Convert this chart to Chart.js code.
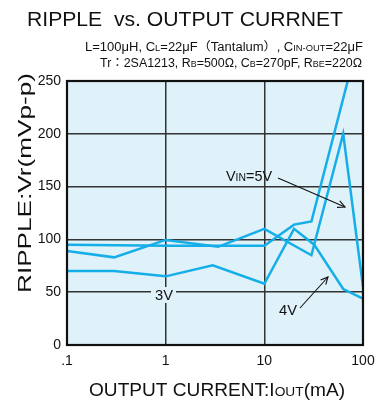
<!DOCTYPE html>
<html>
<head>
<meta charset="utf-8">
<script src="https://cdn.jsdelivr.net/npm/chart.js@4/dist/chart.umd.min.js"></script>
<style>
html,body{margin:0;padding:0;background:#fff;}
#wrap{width:383px;height:401px;position:relative;}
canvas{display:block;}
</style>
</head>
<body>
<div id="wrap"><canvas id="c" width="383" height="401"></canvas></div>
<script>
// ---- data ----
const current3V = [0.1, 0.3, 1, 3, 10, 20, 32, 63, 100];
const ripple3V  = [70, 70, 65, 75.5, 58, 110, 95, 53, 44];
const current4V = [0.1, 1, 10, 20, 30, 80];
const ripple4V  = [95, 94, 94, 114, 117, 271];
const current5V = [0.1, 0.3, 1, 3.4, 10, 30, 63, 100];
const ripple5V  = [89, 83, 99.5, 93, 110, 85, 200, 55];
const xTicks = [0.1, 1, 10, 100];
const xTickLabels = [".1", "1", "10", "100"];
const yTicks = [0, 50, 100, 150, 200, 250];

const FONT = '"Liberation Sans", Arial, "Noto Sans CJK JP", sans-serif';
const LINE = '#14aee8';
const BG = '#dff1f9';

function pts(xs, ys){ return xs.map((x,i)=>({x:x, y:ys[i]})); }

// draw mixed-size text runs; align center; optional target width
function drawRuns(ctx, runs, cx, cy, size, targetW){
  ctx.save();
  let w = 0;
  const widths = runs.map(r => { ctx.font = (size*r[1]).toFixed(2)+'px '+FONT; const m = ctx.measureText(r[0]).width; w += m; return m; });
  const sx = targetW ? targetW / w : 1;
  ctx.translate(cx, cy + size*0.36);
  ctx.scale(sx, 1);
  let x = -w/2;
  ctx.textBaseline = 'alphabetic';
  ctx.textAlign = 'left';
  runs.forEach((r,i) => { ctx.font = (size*r[1]).toFixed(2)+'px '+FONT; ctx.fillText(r[0], x, 0); x += widths[i]; });
  ctx.restore();
}

function arrow(ctx, x1, y1, x2, y2){
  ctx.save();
  ctx.strokeStyle = '#111';
  ctx.lineWidth = 1.1;
  ctx.beginPath(); ctx.moveTo(x1,y1); ctx.lineTo(x2,y2); ctx.stroke();
  const a = Math.atan2(y2-y1, x2-x1), L = 8, s = 0.45;
  ctx.beginPath();
  ctx.moveTo(x2 - L*Math.cos(a-s), y2 - L*Math.sin(a-s));
  ctx.lineTo(x2, y2);
  ctx.lineTo(x2 - L*Math.cos(a+s), y2 - L*Math.sin(a+s));
  ctx.stroke();
  ctx.restore();
}

const S = 0.72;
const deco = {
  id: 'deco',
  beforeDraw(chart){
    const ctx = chart.ctx, a = chart.chartArea;
    ctx.save();
    ctx.fillStyle = '#fff';
    ctx.fillRect(0,0,chart.width,chart.height);
    ctx.fillStyle = BG;
    ctx.fillRect(a.left, a.top, a.right-a.left, a.bottom-a.top);
    ctx.restore();
  },
  afterDatasetsDraw(chart){
    const ctx = chart.ctx, a = chart.chartArea;
    ctx.save();
    ctx.strokeStyle = '#111';
    ctx.lineWidth = 2.2;
    ctx.strokeRect(a.left, a.top, a.right-a.left, a.bottom-a.top);
    ctx.fillStyle = '#111';
    // title
    drawRuns(ctx, [["RIPPLE  vs. OUTPUT CURRNET",1]], 185, 19, 20, 316);
    drawRuns(ctx, [["L=100\u03BCH, C",1],["L",S],["=22\u03BCF\uFF08Tantalum\uFF09, C",1],["IN-OUT",S],["=22\u03BCF",1]], 224, 47, 12, 278);
    drawRuns(ctx, [["Tr\uFF1A2SA1213, R",1],["B",S],["=500\u03A9, C",1],["B",S],["=270pF, R",1],["BE",S],["=220\u03A9",1]], 231, 63, 12, 262);
    // axis titles
    drawRuns(ctx, [["OUTPUT CURRENT:I",1],["OUT",S],["(mA)",1]], 217, 389, 19, 256);
    ctx.save();
    ctx.translate(24, 183);
    ctx.rotate(-Math.PI/2);
    drawRuns(ctx, [["RIPPLE:Vr(mVp-p)",1]], 0, 0, 19, 220);
    ctx.restore();
    // annotations
    ctx.fillStyle = BG;
    ctx.fillRect(151, 287, 25, 16);
    ctx.fillStyle = '#111';
    drawRuns(ctx, [["3V",1]], 164, 295, 15, 18);
    drawRuns(ctx, [["4V",1]], 288, 310, 15, 18);
    drawRuns(ctx, [["V",1],["IN",S],["=5V",1]], 249, 176, 15, 46);
    arrow(ctx, 278, 178, 345, 207);
    arrow(ctx, 300, 308, 328, 277);
    ctx.restore();
  }
};

const ds = (label, xs, ys) => ({
  label, data: pts(xs, ys), borderColor: LINE, borderWidth: 2.5,
  pointRadius: 0, tension: 0, fill: false, clip: 0
});

new Chart(document.getElementById('c'), {
  type: 'line',
  data: { datasets: [ ds('3V', current3V, ripple3V), ds('4V', current4V, ripple4V), ds('5V', current5V, ripple5V) ] },
  options: {
    responsive: false, animation: false, devicePixelRatio: 1,
    layout: { padding: { left: 0, right: 20, top: 81, bottom: 0 } },
    plugins: { legend: { display: false }, tooltip: { enabled: false }, title: { display: false } },
    scales: {
      x: {
        type: 'logarithmic', min: 0.1, max: 100,
        afterBuildTicks: s => { s.ticks = xTicks.map(v => ({ value: v })); },
        afterFit: s => { s.height = 56; },
        ticks: { autoSkip: false, maxRotation: 0, padding: 8, color: '#111', font: { family: FONT, size: 14 },
                 callback: (v, i) => xTickLabels[i] },
        grid: { color: '#333', lineWidth: 1.5, drawTicks: false },
        border: { display: false }
      },
      y: {
        type: 'linear', min: 0, max: 250,
        afterBuildTicks: s => { s.ticks = yTicks.map(v => ({ value: v })); },
        afterFit: s => { s.width = 67; },
        ticks: { padding: 6, color: '#111', font: { family: FONT, size: 14 } },
        grid: { color: '#333', lineWidth: 1.5, drawTicks: false },
        border: { display: false }
      }
    }
  },
  plugins: [deco]
});
</script>
</body>
</html>
